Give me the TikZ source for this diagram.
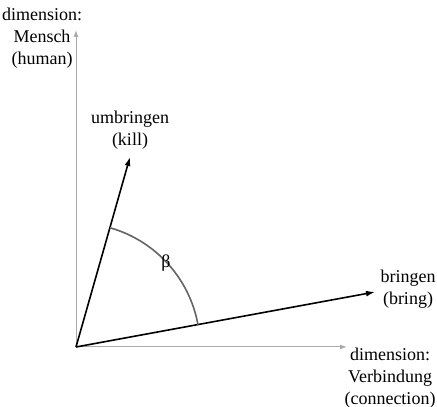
\documentclass[tikz,border=0pt]{standalone}
\usepackage{fontspec}
\setmainfont{Liberation Serif}
\usetikzlibrary{arrows.meta,positioning}
\definecolor{axisgray}{RGB}{170,170,170}
\definecolor{arcgray}{RGB}{100,100,100}

\begin{document}
\begin{tikzpicture}[
x=1pt, y=1pt,
lbl/.style={align=center, font=\fontsize{18}{22}\selectfont, inner sep=0pt},
axis/.style={-{Latex[length=7pt,width=5pt]}, draw=axisgray, line width=1pt},
vec/.style={-{Latex[length=9pt,width=6pt]}, draw=black, line width=1.6pt},
angarc/.style={draw=arcgray, line width=1.6pt}
]
\useasboundingbox (0,0) rectangle (437,407);
\coordinate (O) at (76,60);
\coordinate (yend) at (76,377);
\coordinate (xend) at (347,60);
\coordinate (kill) at (130,250);
\coordinate (bring) at (375,115);
% axes
\draw[axis] (O) -- (yend);
\draw[axis] (O) -- (xend);
% word vectors
\draw[vec] (O) -- (kill);
\draw[vec] (O) -- (bring);
% angle between them
\draw[angarc] ([shift={(10.4:124)}]O) arc[start angle=10.4, end angle=74.1, radius=124];
\node[lbl] (beta) at (166,144) {β};
% labels
\node[lbl] (mensch) at (42,369) {dimension:\\Mensch\\(human)};
\node[lbl] (kilt) at (130,277) {umbringen\\(kill)};
\node[lbl] (bringt) at (408,118) {bringen\\(bring)};
\node[lbl] (verb) at (390,29) {dimension:\\Verbindung\\(connection)};
\end{tikzpicture}
\end{document}
